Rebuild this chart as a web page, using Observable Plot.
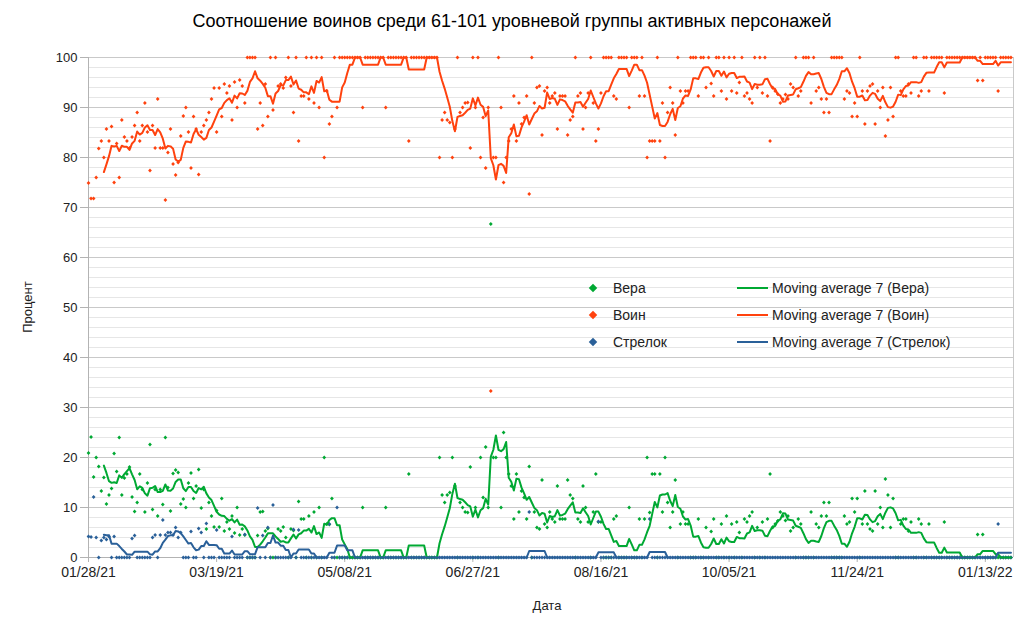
<!DOCTYPE html>
<html>
<head>
<meta charset="utf-8">
<script src="https://cdn.jsdelivr.net/npm/d3@7"></script>
<script src="https://cdn.jsdelivr.net/npm/@observablehq/plot@0.6"></script>
<style>
  body { margin: 0; background: #fff; font-family: "Liberation Sans", Arial, sans-serif; }
  #wrap { position: relative; width: 1024px; height: 620px; overflow: hidden; background: #fff; }
  #title { position: absolute; left: 0; top: 12px; width: 1024px; text-align: center; font-size: 18px; line-height: 18px; color: #000; }
  #chart { position: absolute; left: 0; top: 40px; }
  .txt { position: absolute; font-size: 13px; line-height: 16px; color: #222; white-space: nowrap; }
  .lt { font-size: 14px; }
  .mk { position: absolute; width: 6px; height: 6px; transform: rotate(45deg); }
  .ln { position: absolute; width: 31px; height: 2px; }
</style>
</head>
<body>
<div id="wrap">
  <div id="title">Соотношение воинов среди 61-101 уровневой группы активных персонажей</div>
  <div id="chart"></div>
  <div class="txt" style="left:-22px;top:299px;width:100px;text-align:center;transform:rotate(-90deg);">Процент</div>
  <div class="txt" style="left:447px;top:598px;width:200px;text-align:center;">Дата</div>
  <div id="legend"></div>
</div>
<script>
// ---- data (one value per day, starting 2021-01-28) ----
const startDate = "2021-01-28";
const seriesNames = ["Вера", "Воин", "Стрелок"];
const seriesColors = ["#00a933", "#ff420e", "#2a6099"];
const maLabel = "Moving average 7";
const yTicks = [0, 10, 20, 30, 40, 50, 60, 70, 80, 90, 100];
const xTickDates = ["2021-01-28", "2021-03-19", "2021-05-08", "2021-06-27", "2021-08-16", "2021-10-05", "2021-11-24", "2022-01-13"];

const vera = [
  20.9,24.1,16.1,20,18.2,13.3,16,10.7,12.5,13.8,
  20.8,17.2,24,12.5,15.9,16.7,18.1,12.1,9.2,11,
  16.7,13.6,9.1,14.9,22.6,9.6,13.6,8.3,13.6,10.6,
  24,14,9.3,16.8,17.5,17,10.7,11.7,10,14.9,
  16.9,11.8,14.3,17.6,9.9,13.6,5.7,11,8.3,6.1,
  9.4,6.1,11.8,5.3,7.1,5.7,8.3,4.9,10,4.5,
  5.7,4.5,0,0,0,0,4.4,9.1,9.2,5.3,
  5.8,0,0,0,5.7,5.3,6.1,4,0,5.7,
  5.4,0,11.2,7.7,7.7,0,8.3,0,9.1,0,
  10,0,20,6.7,6.6,11.8,0,0,0,0,
  0,0,0,0,0,0,0,10,0,0,
  0,0,0,0,0,0,10,0,0,0,
  0,0,0,0,0,16.7,0,0,0,0,
  0,0,0,0,0,0,0,20,12.5,11,
  12.5,13,20,14.3,0,11,10,9.1,9,18.1,
  0,10,0,20,12,22.1,10,66.7,20,20,
  0,10,25,20,16.7,14.3,7.7,16.7,9.1,13.3,
  12,7.7,18.2,0,9.1,6,5.7,15.5,6.7,6,
  9.1,7.7,7.1,14.3,7.7,7.7,7.7,15.5,12.5,11.8,
  0,7.7,7.1,14.3,10,7.1,0,9.1,16.7,7.1,
  7.1,0,0,0,0,7.7,8.3,0,0,0,
  0,10,0,0,0,7.7,0,7.7,20,9,
  16.7,16.7,0,16.7,9.1,20,11,6,9.1,15.5,
  0,6.7,9.1,6.7,6.7,0,0,0,7.7,0,
  0,6,0,5.2,7.7,0,0,6.7,0,8.3,
  0,6.7,0,7.1,5,0,7.7,7.1,8.3,9.1,
  0,6,0,7.1,0,7.7,16.7,6,6.7,7.3,
  9.1,8.3,7.4,8.3,5.3,6,0,7.7,6.7,0,
  0,0,9.1,0,6.7,6,8.3,11,8.3,11,
  0,0,0,0,0,8.3,6.7,7.1,11.8,9.1,
  11.8,0,6.7,13.3,6.7,5.7,5.3,13.3,6.7,10,
  6,15.7,12.5,6,11.8,0,0,6.7,7.7,7.7,
  5.3,7.1,0,0,7.7,6.7,0,0,6.7,0,
  0,0,0,0,7.1,0,0,0,0,0,
  0,0,0,0,0,0,0,4.6,0,4.6,
  0,0,0,0,0,0,0,0,0,0,
  0
];

const voin = [
  74.9,71.8,71.8,76,81.8,83.3,80,85.7,83.3,86.2,
  75,82.8,76,87.5,84.1,83.3,81.9,84.1,86.4,89,
  83.3,86.4,90.9,85.1,77.4,86.4,81.9,91.7,81.9,81.9,
  71.5,81,85.7,78.7,76.5,79,84.3,88.3,90,85.1,
  77.9,88.2,85.7,76.6,85.1,86.4,87.5,89,91.7,93.9,
  85.1,93.9,88.2,94.7,92.9,94.3,87.5,95.1,90,95.5,
  94.3,90.9,100,100,100,100,85.7,90.9,86.4,94.7,
  88.2,100,89.5,100,94.3,94.7,93.9,96,100,94.3,
  89,100,83.3,92.3,92.3,100,91.7,100,90.9,100,
  90,100,80,93.3,86.7,88.2,100,90,100,100,
  100,100,100,100,100,100,100,90,100,100,
  100,100,100,100,100,100,90,100,100,100,
  100,100,100,100,100,83.3,100,100,100,100,
  100,100,100,100,100,100,100,80,87.5,89,
  87.5,87,80,85.7,100,89,90,90.9,91,81.9,
  100,90,100,80,88,77.9,90,33.3,80,80,
  100,90,75,80,83.3,85.7,92.3,83.3,90.9,86.7,
  88,92.3,72.7,100,90.9,94,94.3,84.5,93.3,94,
  90.9,92.3,92.9,85.7,92.3,92.3,92.3,84.5,87.5,88.2,
  100,92.3,92.9,85.7,90,92.9,100,90.9,83.3,85.7,
  92.9,100,100,100,100,92.3,91.7,100,100,100,
  100,90,100,100,100,92.3,100,92.3,80,83.3,
  83.3,83.3,100,83.3,90.9,80,89,94,90.9,84.5,
  100,93.3,90.9,93.3,93.3,100,100,100,92.3,100,
  100,94,100,94.8,92.3,100,100,93.3,100,91.7,
  100,93.3,100,92.9,95,100,92.3,92.9,91.7,90.9,
  100,94,100,92.9,100,92.3,83.3,94,93.3,92.7,
  90.9,91.7,92.6,91.7,94.7,94,100,92.3,93.3,100,
  100,100,90.9,100,93.3,94,91.7,89,91.7,89,
  100,100,100,100,100,91.7,93.3,92.9,88.2,90.9,
  88.2,100,93.3,86.7,93.3,94.3,94.7,86.7,93.3,90,
  94,84.3,87.5,94,88.2,100,100,93.3,92.3,92.3,
  94.7,92.9,100,100,92.3,93.3,100,100,93.3,100,
  100,100,100,100,92.9,100,100,100,100,100,
  100,100,100,100,100,100,100,95.4,100,95.4,
  100,100,100,100,100,93.3,100,100,100,100,
  100
];

const strelok = [
  4.2,4.1,12.1,4,0,3.4,4,3.6,4.2,0,
  4.2,0,0,0,0,0,0,3.8,4.4,0,
  0,0,0,0,0,4,4.5,0,4.5,7.5,
  4.5,5,5,4.5,6,4,5,0,0,0,
  5.2,0,0,5.8,5,0,6.8,0,0,0,
  5.5,0,0,0,0,0,4.2,0,0,0,
  0,4.6,0,0,0,0,9.9,0,4.4,0,
  6,0,10.5,0,0,0,0,0,0,0,
  5.6,0,5.5,0,0,0,0,0,0,0,
  0,0,0,0,6.7,0,0,10,0,0,
  0,0,0,0,0,0,0,0,0,0,
  0,0,0,0,0,0,0,0,0,0,
  0,0,0,0,0,0,0,0,0,0,
  0,0,0,0,0,0,0,0,0,0,
  0,0,0,0,0,0,0,0,0,0,
  0,0,0,0,0,0,0,0,0,0,
  0,0,0,0,0,0,0,0,0,0,
  0,0,9.1,0,0,0,0,0,0,0,
  0,0,0,0,0,0,0,0,0,0,
  0,0,0,0,0,0,0,0,0,7.2,
  0,0,0,0,0,0,0,0,0,0,
  0,0,0,0,0,0,0,0,0,7.7,
  0,0,0,0,0,0,0,0,0,0,
  0,0,0,0,0,0,0,0,0,0,
  0,0,0,0,0,0,0,0,0,0,
  0,0,0,0,0,0,0,0,0,0,
  0,0,0,0,0,0,0,0,0,0,
  0,0,0,0,0,0,0,0,0,0,
  0,0,0,0,0,0,0,0,0,0,
  0,0,0,0,0,0,0,0,0,0,
  0,0,0,0,0,0,0,0,0,0,
  0,0,0,0,0,0,0,0,0,0,
  0,0,0,0,0,0,0,0,0,0,
  0,0,0,0,0,0,0,0,0,0,
  0,0,0,0,0,0,0,0,0,0,
  0,0,0,0,0,6.7,0,0,0,0,
  0
];

// ---- build tables ----
const start = d3.utcParse("%Y-%m-%d")(startDate);
const allValues = [vera, voin, strelok];
const nDays = vera.length;
const dates = d3.range(nDays).map(i => d3.utcDay.offset(start, i));

function movingAverage(vals) {
  return vals.map((v, i) => (i < 6 ? null : d3.mean(vals.slice(i - 6, i + 1))));
}

const points = [];
const averages = [];
seriesNames.forEach((name, s) => {
  const vals = allValues[s];
  const ma = movingAverage(vals);
  vals.forEach((v, i) => {
    points.push({date: dates[i], value: v, series: name});
    averages.push({date: dates[i], value: ma[i], series: name});
  });
});

const xTicks = xTickDates.map(d3.utcParse("%Y-%m-%d"));
const xEnd = d3.utcDay.offset(start, nDays);
const yMinor = d3.range(0, 101, 2).filter(v => v % 10 !== 0);

const colorOf = Object.fromEntries(seriesNames.map((n, i) => [n, seriesColors[i]]));

const chart = Plot.plot({
  width: 1024,
  height: 580,
  marginLeft: 88,
  marginRight: 11,
  marginTop: 17,
  marginBottom: 63,
  style: {fontFamily: "'Liberation Sans', Arial, sans-serif", fontSize: "13px", color: "#222", background: "#fff"},
  x: {type: "utc", domain: [start, xEnd]},
  y: {domain: [0, 100]},
  marks: [
    Plot.ruleY(yMinor, {stroke: "#e6e6e6", strokeWidth: 1}),
    Plot.ruleY(yTicks, {stroke: "#c9c9c9", strokeWidth: 1}),
    Plot.ruleX([xEnd], {stroke: "#c9c9c9"}),
    Plot.axisY({ticks: yTicks, tickSize: 8, tickPadding: 3, stroke: "#b3b3b3", fill: "#222", fontSize: 13, label: null}),
    Plot.axisX({ticks: xTicks, tickFormat: d3.utcFormat("%m/%d/%y"), tickSize: 5, tickPadding: 5, stroke: "#b3b3b3", fill: "#222", fontSize: 14, label: null}),
    Plot.ruleX([start], {stroke: "#b3b3b3"}),
    Plot.ruleY([0], {stroke: "#b3b3b3"}),
    ...seriesNames.map(name =>
      Plot.dot(points.filter(d => d.series === name), {
        x: "date", y: "value", symbol: "square", rotate: 45, r: 1.5, fill: colorOf[name], stroke: "none"
      })
    ),
    ...seriesNames.map(name =>
      Plot.line(averages.filter(d => d.series === name), {
        x: "date", y: "value", stroke: colorOf[name], strokeWidth: 2, curve: "linear"
      })
    )
  ]
});
document.getElementById("chart").appendChild(chart);

// ---- legend ----
const legend = document.getElementById("legend");
seriesNames.forEach((name, i) => {
  const yc = 288 + 27 * i;
  const c = colorOf[name];
  legend.insertAdjacentHTML("beforeend",
    `<div class="mk" style="left:590px;top:${yc - 3}px;background:${c}"></div>` +
    `<div class="txt lt" style="left:613px;top:${yc - 8}px">${name}</div>` +
    `<div class="ln" style="left:737px;top:${yc - 1}px;background:${c}"></div>` +
    `<div class="txt lt" style="left:772px;top:${yc - 8}px">${maLabel} (${name})</div>`);
});
</script>
</body>
</html>
